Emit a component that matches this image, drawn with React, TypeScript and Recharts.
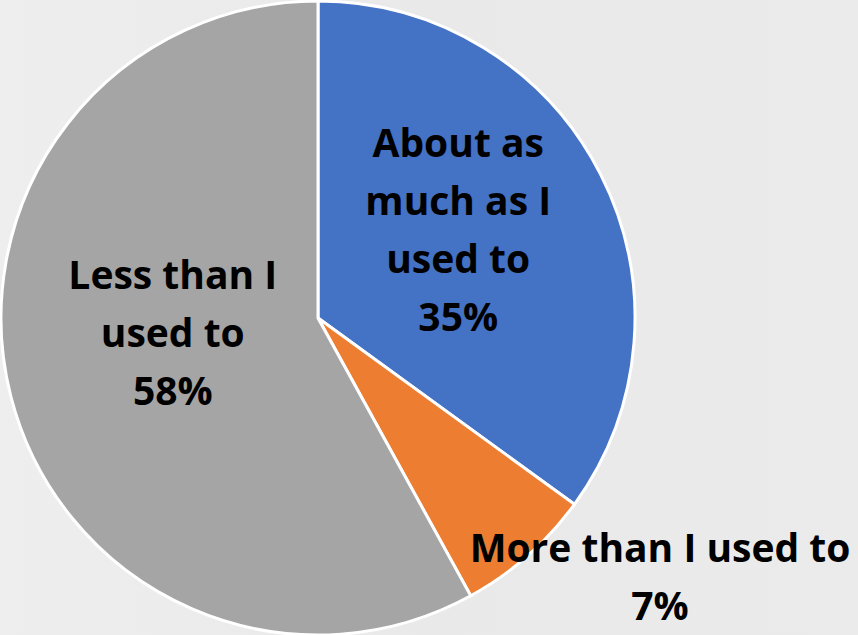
import { PieChart, Pie, Cell } from 'recharts';

const categories = ['About as much as I used to', 'More than I used to', 'Less than I used to'];
const labelLines = [
  ['About as', 'much as I', 'used to'],
  ['More than I used to'],
  ['Less than I', 'used to'],
];
const values = [35, 7, 58];

const COLORS = ['#4472C4', '#ED7D31', '#A5A5A5'];
const W = 858;
const H = 635;
const RAD = Math.PI / 180;

// label radius as a fraction of outer radius, plus a small nudge, per slice
const LABEL_R = [0.5, 1.25, 0.46];
const NUDGE = [[-1, -18], [80, -40], [-4, -23]];

const data = categories.map((name, i) => ({ name, value: values[i] }));

function renderLabel(props: any) {
  const { cx, cy, midAngle, outerRadius, index, value } = props;
  const r = outerRadius * LABEL_R[index];
  const x = cx + r * Math.cos(-midAngle * RAD) + NUDGE[index][0];
  const y = cy + r * Math.sin(-midAngle * RAD) + NUDGE[index][1];
  const lines = [...labelLines[index], `${value}%`];
  const lh = 58;
  const top = y - ((lines.length - 1) * lh) / 2;
  return (
    <text
      key={index}
      x={x}
      y={top}
      textAnchor="middle"
      dominantBaseline="central"
      fontFamily="'Open Sans', Lato, sans-serif"
      fontWeight={700}
      fontSize={39}
      fill="#000"
    >
      {lines.map((l, i) => (
        <tspan key={i} x={x} y={top + i * lh}>{l}</tspan>
      ))}
    </text>
  );
}

export default function App() {
  return (
    <div style={{ position: 'fixed', left: 0, top: 0, width: W, height: H, background: 'linear-gradient(90deg, #eeeeee 0%, #e9e9ea 50%, #ebebeb 100%)', overflow: 'hidden' }}>
      <PieChart width={W} height={H} margin={{ top: 0, right: 0, bottom: 0, left: 0 }}>
        <Pie
          data={data}
          dataKey="value"
          cx={318}
          cy={318}
          outerRadius={317}
          startAngle={90}
          endAngle={-270}
          stroke="#ffffff"
          strokeWidth={3}
          label={renderLabel}
          labelLine={false}
          isAnimationActive={false}
        >
          {data.map((_, i) => (
            <Cell key={i} fill={COLORS[i]} />
          ))}
        </Pie>
      </PieChart>
    </div>
  );
}
